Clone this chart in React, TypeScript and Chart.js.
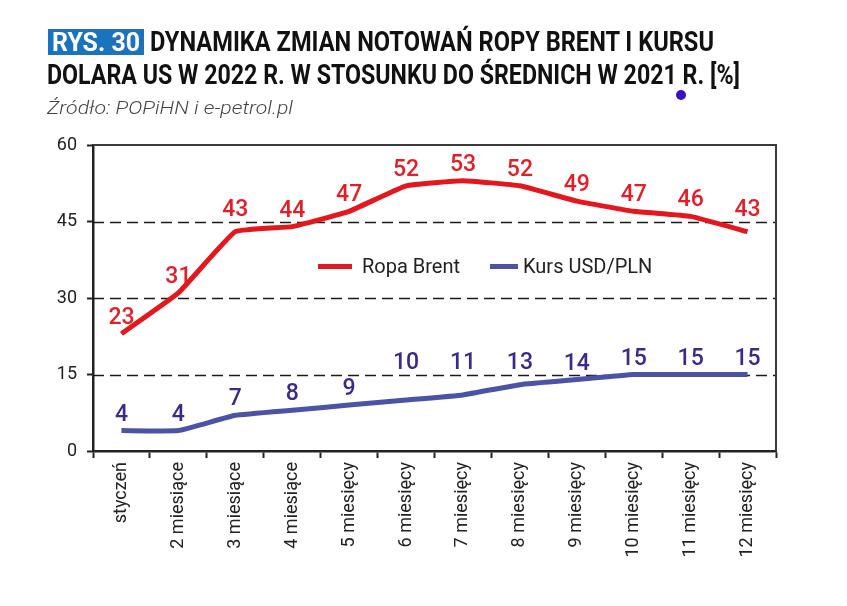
import React, { useEffect, useLayoutEffect, useRef } from 'react';
import { Chart, registerables } from 'chart.js';

Chart.register(...registerables);

const categories = [
  'styczeń', '2 miesiące', '3 miesiące', '4 miesiące', '5 miesięcy', '6 miesięcy',
  '7 miesięcy', '8 miesięcy', '9 miesięcy', '10 miesięcy', '11 miesięcy', '12 miesięcy',
];
const ropaBrent = [23, 31, 43, 44, 47, 52, 53, 52, 49, 47, 46, 43];
const kursUsdPln = [4, 4, 7, 8, 9, 10, 11, 13, 14, 15, 15, 15];
const yMin = 0;
const yMax = 60;
const yStep = 15;
const dashedLevels = [15, 30, 45];

const seriesNames = ['Ropa Brent', 'Kurs USD/PLN'];
const lineColors = ['#e3171d', '#4a53a6'];
const labelColors = ['#e41e26', '#3b2a8a'];

const titleLine1 = 'DYNAMIKA ZMIAN NOTOWAŃ ROPY BRENT I KURSU';
const titleLine2 = 'DOLARA US W 2022 R. W STOSUNKU DO ŚREDNICH W 2021 R. [%]';
const badge = 'RYS. 30';
const source = 'Źródło: POPiHN i e-petrol.pl';

const FONT = 'Roboto, "Noto Sans", sans-serif';

function FitText({ text, width, style }: { text: string; width: number; style: React.CSSProperties }) {
  const ref = useRef<HTMLSpanElement>(null);
  useLayoutEffect(() => {
    const el = ref.current;
    if (!el) return;
    el.style.transform = 'none';
    const w = el.getBoundingClientRect().width;
    if (w > 0) el.style.transform = `scaleX(${width / w})`;
  }, [text, width]);
  return (
    <span
      ref={ref}
      style={{ display: 'inline-block', whiteSpace: 'nowrap', transformOrigin: 'left center', ...style }}
    >
      {text}
    </span>
  );
}

const gridPlugin = {
  id: 'customGrid',
  beforeDatasetsDraw(chart: any) {
    const { ctx, chartArea, scales } = chart;
    const y = scales.y;
    ctx.save();
    ctx.strokeStyle = '#1a1a1a';
    ctx.lineWidth = 1.6;
    ctx.setLineDash([11, 6]);
    dashedLevels.forEach((v) => {
      const py = Math.round(y.getPixelForValue(v)) + 0.5;
      ctx.beginPath();
      ctx.moveTo(chartArea.left, py);
      ctx.lineTo(chartArea.right, py);
      ctx.stroke();
    });
    ctx.setLineDash([]);
    ctx.strokeStyle = '#3a3a3a';
    ctx.lineWidth = 2;
    ctx.beginPath();
    ctx.moveTo(chartArea.left, chartArea.top);
    ctx.lineTo(chartArea.right, chartArea.top);
    ctx.lineTo(chartArea.right, chartArea.bottom);
    ctx.stroke();
    ctx.restore();
  },
  afterDatasetsDraw(chart: any) {
    const { ctx, scales } = chart;
    const levelPx = dashedLevels.map((v) => scales.y.getPixelForValue(v));
    ctx.save();
    ctx.font = `500 23px ${FONT}`;
    ctx.textAlign = 'center';
    ctx.textBaseline = 'alphabetic';
    chart.data.datasets.forEach((ds: any, di: number) => {
      const meta = chart.getDatasetMeta(di);
      ctx.fillStyle = labelColors[di];
      meta.data.forEach((pt: any, i: number) => {
        let base = pt.y - 10;
        const top = base - 17;
        levelPx.forEach((lp) => {
          if (lp > top - 2 && lp < base + 3) base = lp - 6;
        });
        ctx.fillText(String(ds.data[i]), pt.x, base);
      });
    });
    ctx.restore();
  },
};

export default function App() {
  const canvasRef = useRef<HTMLCanvasElement>(null);

  useEffect(() => {
    const canvas = canvasRef.current;
    if (!canvas) return;
    const chart = new Chart(canvas, {
      type: 'line',
      data: {
        labels: categories,
        datasets: [
          {
            label: seriesNames[0],
            data: ropaBrent,
            borderColor: lineColors[0],
            backgroundColor: lineColors[0],
            borderWidth: 5,
            pointRadius: 0,
            tension: 0.1,
            borderJoinStyle: 'round',
          },
          {
            label: seriesNames[1],
            data: kursUsdPln,
            borderColor: lineColors[1],
            backgroundColor: lineColors[1],
            borderWidth: 5,
            pointRadius: 0,
            tension: 0.1,
            borderJoinStyle: 'round',
          },
        ],
      },
      options: {
        animation: false,
        responsive: true,
        maintainAspectRatio: false,
        layout: { padding: { top: 145, right: 71, left: 0, bottom: 0 } },
        plugins: { legend: { display: false }, tooltip: { enabled: false }, title: { display: false } },
        scales: {
          x: {
            type: 'category',
            offset: true,
            grid: {
              offset: true,
              drawOnChartArea: false,
              drawTicks: true,
              tickLength: 7,
              tickColor: '#222',
              tickWidth: 2,
            },
            border: { display: true, color: '#222', width: 2.5 },
            ticks: {
              autoSkip: false,
              minRotation: 90,
              maxRotation: 90,
              color: '#222',
              padding: 4,
              font: { family: FONT, size: 18 },
            },
            afterFit(scale: any) {
              scale.height = 155;
            },
          },
          y: {
            min: yMin,
            max: yMax,
            grid: {
              drawOnChartArea: false,
              drawTicks: true,
              tickLength: 6,
              tickColor: '#222',
              tickWidth: 2,
            },
            border: { display: true, color: '#222', width: 2.5 },
            ticks: {
              stepSize: yStep,
              color: '#222',
              padding: 10,
              font: { family: FONT, size: 18 },
            },
            afterFit(scale: any) {
              scale.width = 93;
            },
          },
        },
      },
      plugins: [gridPlugin],
    });
    return () => chart.destroy();
  }, []);

  const legendText: React.CSSProperties = {
    position: 'absolute',
    fontFamily: FONT,
    fontSize: 20,
    color: '#222',
    lineHeight: '24px',
    whiteSpace: 'nowrap',
  };

  return (
    <div style={{ position: 'absolute', left: 0, top: 0, width: 847, height: 606, background: '#fff', overflow: 'hidden' }}>
      <canvas ref={canvasRef} style={{ position: 'absolute', left: 0, top: 0 }} width={847} height={606} />
      <div
        style={{
          position: 'absolute', left: 48, top: 29, width: 96, height: 26, background: '#1b73bd',
          color: '#fff', fontFamily: FONT, fontWeight: 700, fontSize: 26, lineHeight: '26px',
          paddingLeft: 4, boxSizing: 'border-box', overflow: 'visible',
        }}
      >
        <FitText text={badge} width={88} style={{ fontFamily: FONT, fontWeight: 700 }} />
      </div>
      <div style={{ position: 'absolute', left: 150, top: 27, lineHeight: '30px', fontSize: 27, fontFamily: FONT, fontWeight: 700, color: '#111' }}>
        <FitText text={titleLine1} width={564} style={{}} />
      </div>
      <div style={{ position: 'absolute', left: 47, top: 60, lineHeight: '30px', fontSize: 27, fontFamily: FONT, fontWeight: 700, color: '#111' }}>
        <FitText text={titleLine2} width={693} style={{}} />
      </div>
      <div style={{ position: 'absolute', left: 47, top: 96, lineHeight: '24px', fontSize: 19, fontFamily: FONT, fontStyle: 'italic', fontWeight: 300, color: '#444' }}>
        <FitText text={source} width={246} style={{}} />
      </div>
      <div style={{ position: 'absolute', left: 676, top: 90, width: 10, height: 10, borderRadius: 5, background: '#3a10c8' }} />
      <div style={{ position: 'absolute', left: 318, top: 264, width: 34, height: 5, background: lineColors[0] }} />
      <div style={{ ...legendText, left: 362, top: 254 }}>{seriesNames[0]}</div>
      <div style={{ position: 'absolute', left: 490, top: 264, width: 28, height: 5, background: lineColors[1] }} />
      <div style={{ ...legendText, left: 523, top: 254 }}>{seriesNames[1]}</div>
    </div>
  );
}
